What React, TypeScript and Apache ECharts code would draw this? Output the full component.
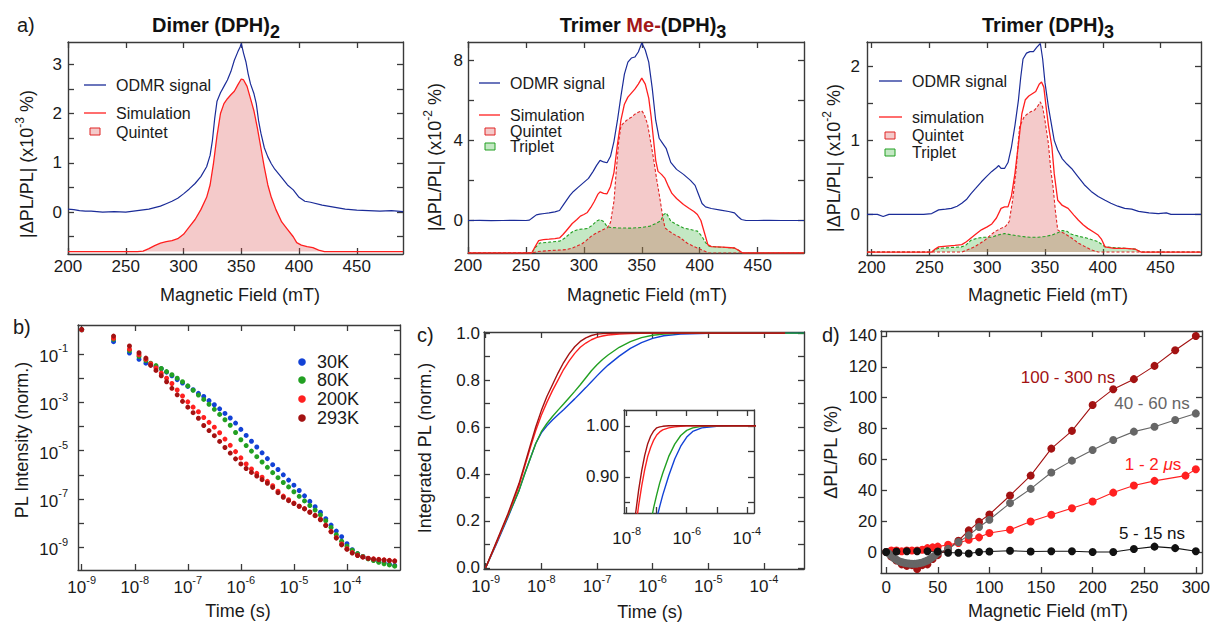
import React, { useEffect, useRef } from "react";
import * as echarts from "echarts";

const FONT = '"Liberation Sans", Arial, Helvetica, sans-serif';
const TXT = "#1a1a1a";
const AX = "#3a3a3a";

const ODMR_BLUE = "#1b2c98";
const SIM_RED = "#ff1f1f";
const Q_LINE = "#e02424";
const Q_FILL = "rgba(220,80,80,0.3)";
const T_LINE = "#22a022";
const T_FILL = "rgba(60,180,60,0.3)";

// ---------- Panel a: Dimer (DPH)2 ----------
const A_ODMR = [
  [200, 0.06], [205, 0.05], [210, 0.03], [215, 0.02], [220, 0.02], [230, 0.0], [240, 0.01], [250, 0.0],
  [260, 0.03], [270, 0.06], [280, 0.12], [285, 0.17], [290, 0.22], [295, 0.28], [300, 0.37], [305, 0.47],
  [310, 0.58], [315, 0.72], [320, 0.92], [323, 1.15], [325, 1.45], [327, 1.9], [329, 2.25], [332, 2.42],
  [335, 2.55], [338, 2.68], [341, 2.85], [344, 3.08], [347, 3.25], [349, 3.35], [350, 3.42], [352, 3.22],
  [354, 3.05], [356, 2.8], [358, 2.6], [361, 2.4], [363, 2.2], [365, 1.85], [367, 1.6], [370, 1.3],
  [373, 1.12], [376, 0.98], [379, 0.87], [385, 0.7], [390, 0.55], [395, 0.45], [400, 0.3], [405, 0.22],
  [410, 0.2], [420, 0.14], [430, 0.1], [440, 0.06], [450, 0.04], [460, 0.03], [470, 0.02], [480, 0.03], [490, 0.01],
];
const A_SIM = [
  [200, -0.8], [260, -0.8], [265, -0.79], [270, -0.74], [275, -0.68], [280, -0.63], [285, -0.6], [290, -0.58],
  [295, -0.54], [300, -0.45], [305, -0.3], [310, -0.15], [315, 0.05], [320, 0.3], [323, 0.55], [326, 1.0],
  [329, 1.55], [332, 2.0], [335, 2.2], [338, 2.3], [341, 2.38], [344, 2.45], [347, 2.58], [350, 2.7],
  [352, 2.68], [355, 2.55], [358, 2.3], [361, 2.05], [364, 1.7], [367, 1.3], [370, 0.9], [373, 0.55],
  [376, 0.3], [380, 0.05], [385, -0.2], [390, -0.35], [395, -0.5], [398, -0.62], [402, -0.67], [407, -0.7],
  [412, -0.72], [417, -0.77], [422, -0.8], [490, -0.8],
];

// ---------- Panel b (top): Trimer Me-(DPH)3 ----------
const B_ODMR = [
  [200, 0], [210, 0.01], [220, -0.01], [230, 0], [240, 0.01], [250, 0], [253, 0.02], [256, 0.15], [259, 0.28],
  [262, 0.32], [266, 0.35], [270, 0.38], [275, 0.43], [279, 0.5], [282, 0.75], [285, 1.0], [288, 1.25],
  [291, 1.45], [295, 1.65], [300, 1.9], [304, 2.1], [308, 2.45], [311, 2.75], [314, 3.0], [317, 2.92],
  [320, 2.88], [323, 3.2], [326, 3.95], [329, 5.0], [332, 6.2], [335, 7.3], [338, 7.9], [341, 8.1],
  [344, 8.15], [347, 8.4], [350, 8.85], [353, 8.5], [356, 7.9], [359, 6.6], [362, 5.0], [365, 4.1],
  [368, 3.85], [371, 3.6], [375, 2.9], [380, 2.55], [386, 2.3], [392, 2.0], [396, 1.75], [399, 1.3],
  [402, 0.85], [405, 0.68], [410, 0.6], [418, 0.52], [425, 0.45], [430, 0.38], [433, 0.2], [436, 0.05],
  [440, 0], [450, 0], [460, 0.01], [470, 0], [480, 0], [490, 0],
];
const B_SIM = [
  [200, -1.62], [255, -1.62], [258, -1.3], [261, -1.0], [265, -0.95], [270, -0.93], [275, -0.9], [279, -0.87],
  [282, -0.7], [285, -0.5], [290, -0.15], [294, 0.05], [297, 0.22], [300, 0.3], [303, 0.4], [306, 0.65],
  [309, 0.95], [312, 1.3], [314, 1.43], [317, 1.35], [320, 1.33], [323, 1.7], [326, 2.4], [329, 3.8],
  [332, 5.0], [335, 5.8], [338, 6.15], [341, 6.35], [344, 6.55], [347, 6.8], [350, 7.1], [353, 6.8],
  [356, 6.1], [358, 5.2], [360, 4.1], [362, 3.0], [364, 2.45], [367, 2.3], [370, 2.1], [373, 1.7],
  [376, 1.35], [380, 1.1], [386, 0.8], [391, 0.6], [395, 0.45], [398, 0.3], [401, 0.0], [404, -0.6],
  [407, -1.2], [410, -1.3], [420, -1.33], [430, -1.37], [434, -1.5], [437, -1.62], [490, -1.62],
];
const B_QUINTET = [
  [200, -1.62], [255, -1.62], [260, -1.55], [270, -1.5], [280, -1.47], [285, -1.45], [290, -1.38], [295, -1.25],
  [298, -1.18], [302, -1.0], [306, -0.8], [310, -0.65], [315, -0.5], [320, -0.37], [323, -0.1], [326, 0.97],
  [328, 2.5], [330, 3.9], [332, 4.72], [335, 4.9], [338, 5.05], [341, 5.15], [344, 5.3], [347, 5.4],
  [350, 5.47], [352, 5.3], [355, 4.8], [358, 3.8], [360, 3.13], [363, 2.0], [366, 0.97], [368, 0.2],
  [370, -0.37], [374, -0.55], [378, -0.7], [383, -0.85], [389, -1.12], [395, -1.3], [401, -1.45], [405, -1.55],
  [408, -1.62], [490, -1.62],
];
const B_TRIPLET = [
  [200, -1.62], [255, -1.62], [258, -1.35], [262, -1.12], [270, -1.08], [279, -1.03], [283, -0.9], [287, -0.7],
  [291, -0.53], [295, -0.45], [300, -0.42], [303, -0.4], [307, -0.25], [311, -0.03], [314, 0.05], [317, -0.05],
  [320, -0.3], [323, -0.35], [330, -0.37], [340, -0.38], [350, -0.35], [357, -0.28], [362, -0.15], [366, -0.03],
  [369, 0.3], [371, 0.38], [373, 0.2], [375, -0.03], [380, -0.2], [386, -0.37], [392, -0.45], [398, -0.53],
  [402, -0.8], [405, -1.1], [408, -1.28], [415, -1.32], [425, -1.35], [430, -1.37], [434, -1.5], [436, -1.62],
  [490, -1.62],
];

// ---------- Panel c (top): Trimer (DPH)3 ----------
const C_ODMR = [
  [196, 0.0], [205, 0.0], [210, -0.03], [215, 0.0], [225, 0.0], [235, 0.0], [245, 0.0], [252, 0.01],
  [258, 0.06], [264, 0.07], [269, 0.08], [274, 0.11], [278, 0.15], [282, 0.2], [286, 0.28], [290, 0.35],
  [295, 0.44], [300, 0.52], [304, 0.58], [308, 0.63], [310, 0.66], [312, 0.62], [315, 0.62], [318, 0.7],
  [321, 0.91], [324, 1.2], [327, 1.54], [329, 1.85], [331, 2.1], [334, 2.18], [337, 2.2], [340, 2.2],
  [343, 2.26], [346, 2.31], [348, 2.1], [350, 1.78], [353, 1.45], [356, 1.18], [358, 1.0], [361, 0.87],
  [365, 0.75], [369, 0.68], [373, 0.62], [378, 0.52], [384, 0.4], [390, 0.31], [396, 0.24], [402, 0.19],
  [407, 0.15], [413, 0.11], [419, 0.08], [425, 0.07], [431, 0.04], [440, 0.02], [448, 0.01], [455, 0.02],
  [459, 0.0], [470, 0.0], [485, 0.0],
];
const C_SIM = [
  [196, -0.51], [252, -0.51], [255, -0.47], [258, -0.44], [265, -0.43], [272, -0.42], [278, -0.41], [282, -0.37],
  [286, -0.32], [290, -0.27], [295, -0.21], [300, -0.17], [304, -0.13], [308, -0.05], [312, 0.08], [315, 0.1],
  [318, 0.1], [321, 0.25], [324, 0.55], [327, 0.95], [330, 1.36], [333, 1.55], [336, 1.6], [339, 1.63],
  [342, 1.66], [345, 1.76], [347, 1.79], [349, 1.72], [351, 1.45], [353, 1.2], [356, 0.91], [358, 0.55],
  [361, 0.19], [365, 0.12], [370, 0.08], [375, -0.01], [379, -0.08], [383, -0.14], [387, -0.19], [392, -0.24],
  [396, -0.28], [399, -0.34], [402, -0.44], [410, -0.46], [420, -0.46], [428, -0.47], [433, -0.51], [485, -0.51],
];
const C_QUINTET = [
  [196, -0.51], [278, -0.51], [283, -0.48], [289, -0.44], [294, -0.39], [298, -0.35], [303, -0.28], [307, -0.23],
  [312, -0.19], [316, -0.16], [319, -0.1], [322, 0.19], [325, 0.6], [328, 1.18], [332, 1.32], [335, 1.36],
  [338, 1.39], [341, 1.41], [344, 1.47], [346, 1.52], [348, 1.45], [350, 1.27], [353, 0.95], [355, 0.6],
  [357, 0.37], [359, 0.05], [361, -0.21], [364, -0.24], [367, -0.26], [373, -0.32], [379, -0.39], [385, -0.44],
  [390, -0.48], [396, -0.51], [485, -0.51],
];
const C_TRIPLET = [
  [196, -0.51], [252, -0.51], [255, -0.48], [258, -0.46], [268, -0.45], [278, -0.44], [282, -0.41], [286, -0.35],
  [292, -0.32], [298, -0.31], [304, -0.31], [309, -0.28], [315, -0.26], [322, -0.28], [330, -0.3], [337, -0.31],
  [344, -0.31], [350, -0.3], [356, -0.28], [361, -0.25], [365, -0.22], [369, -0.23], [373, -0.27], [380, -0.3],
  [386, -0.32], [390, -0.34], [396, -0.37], [402, -0.44], [410, -0.45], [420, -0.46], [428, -0.47], [433, -0.51],
  [485, -0.51],
];

// ---------- Panel b (bottom): PL decay, log10 of time (s) and of intensity ----------
const DECAY_T_EXP = [
  -9, -8.4, -8.1, -7.92, -7.79, -7.7, -7.6, -7.5, -7.4, -7.3, -7.2, -7.1, -7.0, -6.9, -6.8, -6.7, -6.6, -6.5,
  -6.4, -6.3, -6.2, -6.1, -6.0, -5.9, -5.8, -5.7, -5.6, -5.5, -5.4, -5.3, -5.2, -5.1, -5.0, -4.9, -4.8, -4.7,
  -4.6, -4.5, -4.4, -4.3, -4.2, -4.1, -4.0, -3.9, -3.8, -3.7, -3.6, -3.5, -3.4, -3.3, -3.2, -3.1,
];
const DECAY_30K = [
  0.0, -0.49, -0.96, -1.22, -1.38, -1.45, -1.53, -1.61, -1.75, -1.9, -2.06, -2.2, -2.34, -2.48, -2.63, -2.76,
  -2.93, -3.1, -3.27, -3.46, -3.65, -3.86, -4.12, -4.37, -4.61, -4.85, -5.09, -5.33, -5.58, -5.78, -6.0, -6.22,
  -6.43, -6.65, -6.87, -7.1, -7.32, -7.55, -7.82, -8.08, -8.33, -8.56, -8.85, -9.1, -9.26, -9.38, -9.46, -9.52,
  -9.57, -9.63, -9.7, -9.75,
];
const DECAY_80K = [
  0.0, -0.39, -0.86, -1.1, -1.27, -1.38, -1.48, -1.6, -1.73, -1.86, -2.0, -2.15, -2.32, -2.5, -2.7, -2.88,
  -3.08, -3.29, -3.5, -3.72, -3.95, -4.25, -4.55, -4.79, -5.02, -5.25, -5.47, -5.69, -5.91, -6.12, -6.32, -6.5,
  -6.7, -6.89, -7.08, -7.27, -7.46, -7.66, -7.9, -8.18, -8.48, -8.75, -8.95, -9.12, -9.26, -9.38, -9.48, -9.55,
  -9.62, -9.68, -9.73, -9.78,
];
const DECAY_200K = [
  0.0, -0.35, -0.8, -1.03, -1.22, -1.4, -1.58, -1.79, -2.0, -2.22, -2.49, -2.74, -2.98, -3.2, -3.39, -3.63,
  -3.83, -4.03, -4.26, -4.52, -4.78, -5.04, -5.3, -5.55, -5.76, -5.94, -6.1, -6.27, -6.45, -6.68, -6.88, -7.03,
  -7.17, -7.3, -7.4, -7.54, -7.68, -7.84, -8.08, -8.34, -8.6, -8.86, -9.06, -9.22, -9.33, -9.4, -9.45, -9.48,
  -9.5, -9.52, -9.54, -9.56,
];
const DECAY_293K = [
  0.02, -0.26, -0.67, -0.95, -1.17, -1.47, -1.68, -1.9, -2.15, -2.42, -2.69, -2.96, -3.2, -3.43, -3.66, -3.96,
  -4.17, -4.38, -4.62, -4.87, -5.1, -5.34, -5.55, -5.74, -5.9, -6.05, -6.2, -6.35, -6.52, -6.74, -6.93, -7.07,
  -7.19, -7.3, -7.41, -7.55, -7.69, -7.86, -8.1, -8.36, -8.62, -8.9, -9.08, -9.24, -9.34, -9.41, -9.46, -9.49,
  -9.51, -9.53, -9.55, -9.57,
];

// ---------- Panel c (bottom): integrated PL ----------
const INT_T_EXP = [
  -9, -8.8, -8.6, -8.4, -8.3, -8.2, -8.1, -8.0, -7.9, -7.8, -7.7, -7.6, -7.5, -7.4, -7.3, -7.2, -7.1, -7.0,
  -6.9, -6.8, -6.6, -6.4, -6.2, -6.0, -5.8, -5.5, -5.0, -4.5, -4.0, -3.62, -3.28,
];
const INT_30K = [
  0, 0.105, 0.215, 0.33, 0.4, 0.465, 0.53, 0.575, 0.605, 0.63, 0.652, 0.674, 0.697, 0.72, 0.744, 0.768, 0.793,
  0.818, 0.842, 0.864, 0.902, 0.935, 0.96, 0.978, 0.989, 0.996, 0.999, 1, 1, 1, 1,
];
const INT_80K = [
  0, 0.11, 0.22, 0.33, 0.4, 0.465, 0.53, 0.58, 0.615, 0.645, 0.672, 0.698, 0.725, 0.752, 0.78, 0.81, 0.84,
  0.865, 0.888, 0.907, 0.94, 0.964, 0.981, 0.991, 0.996, 0.999, 1, 1, 1, 1, 1,
];
const INT_200K = [
  0, 0.11, 0.225, 0.35, 0.43, 0.51, 0.585, 0.65, 0.705, 0.755, 0.8, 0.845, 0.882, 0.914, 0.94, 0.958, 0.972,
  0.982, 0.988, 0.992, 0.996, 0.998, 0.999, 1, 1, 1, 1, 1, 1, 1, null,
];
const INT_293K = [
  0, 0.115, 0.23, 0.36, 0.44, 0.52, 0.6, 0.67, 0.73, 0.78, 0.83, 0.875, 0.912, 0.942, 0.965, 0.98, 0.99,
  0.996, 0.998, 0.999, 1, 1, 1, 1, 1, 1, 1, 1, 1, 1, null,
];

// ---------- Panel d: field dependence ----------
const D_X_100_300NS = [0, 5, 10, 15, 20, 25, 30, 35, 40, 45, 50, 60, 70, 80, 90, 100, 120, 140, 160, 180, 200, 220, 240, 260, 280, 300];
const D_Y_100_300NS = [0, -3, -5.5, -8, -9, -8.5, -11, -8.5, -8, -4.5, -2, 2, 7.3, 14, 19.5, 24.3, 36.6, 49.5, 67, 78.5, 95.2, 105.5, 112, 120.6, 130.7, 140];
const D_X_40_60NS = [0, 2.5, 5, 7.5, 10, 12.5, 15, 17.5, 20, 22.5, 25, 27.5, 30, 32.5, 35, 37.5, 40, 42.5, 45, 47.5, 50, 60, 70, 80, 90, 100, 120, 140, 160, 180, 200, 220, 240, 260, 280, 300];
const D_Y_40_60NS = [0, -1, -2.5, -4, -5, -6, -6.5, -7, -7.3, -7.5, -7.6, -7.6, -7.5, -7.2, -6.8, -6.2, -5.5, -4.5, -3.3, -2, -0.5, 1.9, 6.5, 10.8, 16.2, 20.9, 31.7, 40.9, 51.5, 59.2, 66.1, 72.6, 78, 81.2, 85.5, 89.8];
const D_X_1_2US = [0, 5, 10, 15, 20, 25, 30, 35, 40, 45, 50, 60, 70, 80, 90, 100, 120, 140, 160, 180, 200, 220, 240, 260, 290, 300];
const D_Y_1_2US = [0, 1, 1, 0.5, 1, 1, 1, 1.5, 2.5, 3, 3.5, 4.7, 5.8, 8, 9.5, 12.3, 14.4, 19.8, 24.1, 28.4, 32.7, 38.5, 43.1, 46.1, 49.5, 53.6];
const D_X_5_15NS = [0, 10, 20, 30, 40, 50, 60, 70, 80, 90, 100, 120, 140, 160, 180, 200, 220, 240, 260, 280, 300];
const D_Y_5_15NS = [0, 0.3, 0.5, 0.5, 0.5, 0.3, -0.5, -0.5, -1, 0, 0.3, 0.8, 0.3, 0.5, 0.5, 0, 0, 2, 3.5, 2.5, 0.5];

// ---------- tick values ----------
const FIELD_TICKS = [200, 250, 300, 350, 400, 450];
const A_Y_LABELS = [0, 1, 2, 3];
const A_Y_TICKS = [-0.5, 0, 0.5, 1, 1.5, 2, 2.5, 3];
const B_Y_LABELS = [0, 4, 8];
const B_Y_TICKS = [0, 2, 4, 6, 8];
const C_Y_LABELS = [0, 1, 2];
const C_Y_TICKS = [0, 0.5, 1, 1.5, 2];
const TIME_DECADES = [1e-9, 1e-8, 1e-7, 1e-6, 1e-5, 1e-4];
const DECAY_Y_TICKS = [1e-9, 1e-8, 1e-7, 1e-6, 1e-5, 1e-4, 1e-3, 1e-2, 1e-1, 1];
const DECAY_Y_LABELS = [1e-9, 1e-7, 1e-5, 1e-3, 1e-1];
const INT_Y_LABELS = [0, 0.2, 0.4, 0.6, 0.8, 1.0];
const INT_Y_TICKS = [0, 0.1, 0.2, 0.3, 0.4, 0.5, 0.6, 0.7, 0.8, 0.9, 1.0];
const INSET_X_TICKS = [1e-8, 1e-7, 1e-6, 1e-5, 1e-4];
const INSET_X_LABELS = [1e-8, 1e-6, 1e-4];
const INSET_Y_TICKS = [0.85, 0.9, 0.95, 1.0];
const INSET_Y_LABELS = [0.9, 1.0];
const D_X_TICKS = [0, 50, 100, 150, 200, 250, 300];
const D_Y_TICKS = [0, 20, 40, 60, 80, 100, 120, 140];

// ---------- helpers ----------
const LOG_RICH = {
  b: { fontSize: 17, fontFamily: FONT, color: TXT, lineHeight: 22, verticalAlign: "bottom" },
  s: { fontSize: 11, fontFamily: FONT, color: TXT, verticalAlign: "top" },
};
const logFmt = (v: number) => `{b|10}{s|${Math.round(Math.log10(v))}}`;
const plainFmt = (v: number) => String(v);

type AxCfg = {
  grid: number;
  type?: "value" | "log";
  min: number;
  max: number;
  ticks: number[];
  labels: number[];
  fmt: (v: number) => string;
  rich?: any;
  margin: number;
};

function axisPair(dim: "x" | "y", c: AxCfg) {
  const common: any = {
    type: c.type ?? "value",
    gridIndex: c.grid,
    min: c.min,
    max: c.max,
    splitLine: { show: false },
    minorTick: { show: false },
    minorSplitLine: { show: false },
    axisLine: { show: true, onZero: false, lineStyle: { color: AX, width: 1.4 } },
  };
  if (c.type === "log") common.logBase = 10;
  const pos = dim === "x" ? ["bottom", "top"] : ["left", "right"];
  const tick = { show: true, inside: true, length: 6, customValues: c.ticks, lineStyle: { color: AX, width: 1.3 } };
  return [
    {
      ...common,
      position: pos[0],
      axisTick: tick,
      axisLabel: {
        show: true,
        customValues: c.labels,
        formatter: c.fmt,
        margin: c.margin,
        fontSize: 17,
        fontFamily: FONT,
        color: TXT,
        rich: c.rich,
      },
    },
    { ...common, position: pos[1], axisTick: tick, axisLabel: { show: false } },
  ];
}

function lineSeries(g: number, name: string, data: any[], color: string, opts: any = {}) {
  return {
    type: "line",
    name,
    xAxisIndex: 2 * g,
    yAxisIndex: 2 * g,
    data,
    showSymbol: false,
    symbol: "none",
    clip: true,
    silent: true,
    emphasis: { disabled: true },
    z: opts.z ?? 2,
    lineStyle: { color, width: opts.width ?? 1.3, type: opts.dash ? [3, 2] : "solid", opacity: opts.noLine ? 0 : 1 },
    itemStyle: { color },
    areaStyle: opts.area ? { color: opts.area, origin: opts.origin, opacity: 1 } : undefined,
  };
}

const expPairs = (xs: number[], ys: (number | null)[]) =>
  xs.map((x, i) => (ys[i] == null ? null : [Math.pow(10, x), ys[i]])).filter((p) => p !== null);
const expPairs2 = (xs: number[], ys: number[]) => xs.map((x, i) => [Math.pow(10, x), Math.pow(10, ys[i])]);
const zip = (xs: number[], ys: number[]) => xs.map((x, i) => [x, ys[i]]);

function text(x: number, y: number, t: string, o: any = {}) {
  const align = o.align ?? "center";
  return {
    type: "text",
    x,
    y,
    rotation: o.rotation ?? 0,
    z: 100,
    silent: true,
    style: {
      text: t,
      fill: o.color ?? TXT,
      fontSize: o.size ?? 17,
      fontFamily: FONT,
      fontWeight: o.weight ?? "normal",
      align,
      textAlign: align,
      verticalAlign: "middle",
      textVerticalAlign: "middle",
      rich: o.rich,
    },
  };
}
const hline = (x1: number, x2: number, y: number, color: string) => ({
  type: "line",
  z: 100,
  silent: true,
  shape: { x1, y1: y, x2, y2: y },
  style: { stroke: color, lineWidth: 1.3 },
});
const box = (x: number, y: number, fill: string, stroke: string) => ({
  type: "rect",
  z: 100,
  silent: true,
  shape: { x, y, width: 10, height: 7 },
  style: { fill, stroke, lineWidth: 1 },
});
const dot = (cx: number, cy: number, color: string) => ({
  type: "circle",
  z: 100,
  silent: true,
  shape: { cx, cy, r: 3.8 },
  style: { fill: color },
});

const NAME_RICH = {
  a: { fontSize: 18, fontFamily: FONT, fill: TXT, lineHeight: 22, verticalAlign: "bottom" },
  s: { fontSize: 12, fontFamily: FONT, fill: TXT, verticalAlign: "top" },
};
const TITLE_RICH = {
  b: { fontSize: 20, fontWeight: "bold", fontFamily: FONT, fill: "#111", lineHeight: 26, verticalAlign: "top" },
  m: { fontSize: 20, fontWeight: "bold", fontFamily: FONT, fill: "#a31818", lineHeight: 26, verticalAlign: "top" },
  s: { fontSize: 18, fontWeight: "bold", fontFamily: FONT, fill: "#111", verticalAlign: "bottom" },
};

const C_BLUE = "#1242d6";
const C_GREEN = "#22a022";
const C_RED = "#ff2020";
const C_DKRED = "#a31212";
const D_GRAY = "#666666";
const D_BLACK = "#111111";

function buildOption() {
  const grids = [
    { left: 68, top: 42, width: 335, height: 212 },
    { left: 468, top: 42, width: 336, height: 211 },
    { left: 867, top: 42, width: 334, height: 213 },
    { left: 78, top: 325, width: 322, height: 245 },
    { left: 484, top: 332, width: 320, height: 237 },
    { left: 624, top: 410, width: 130, height: 103 },
    { left: 881, top: 331, width: 326, height: 242 },
  ].map((g) => ({ ...g, containLabel: false, show: false }));

  const xAxis = [
    ...axisPair("x", { grid: 0, min: 200, max: 490, ticks: FIELD_TICKS, labels: FIELD_TICKS, fmt: plainFmt, margin: 4 }),
    ...axisPair("x", { grid: 1, min: 200, max: 490, ticks: FIELD_TICKS, labels: FIELD_TICKS, fmt: plainFmt, margin: 4 }),
    ...axisPair("x", { grid: 2, min: 196, max: 485, ticks: FIELD_TICKS, labels: FIELD_TICKS, fmt: plainFmt, margin: 4 }),
    ...axisPair("x", { grid: 3, type: "log", min: Math.pow(10, -9.07), max: Math.pow(10, -3.0), ticks: TIME_DECADES, labels: TIME_DECADES, fmt: logFmt, rich: LOG_RICH, margin: 4 }),
    ...axisPair("x", { grid: 4, type: "log", min: Math.pow(10, -9.03), max: Math.pow(10, -3.28), ticks: TIME_DECADES, labels: TIME_DECADES, fmt: logFmt, rich: LOG_RICH, margin: 4 }),
    ...axisPair("x", { grid: 5, type: "log", min: Math.pow(10, -8.09), max: Math.pow(10, -3.76), ticks: INSET_X_TICKS, labels: INSET_X_LABELS, fmt: logFmt, rich: LOG_RICH, margin: 12 }),
    ...axisPair("x", { grid: 6, min: -5, max: 306, ticks: D_X_TICKS, labels: D_X_TICKS, fmt: plainFmt, margin: 6 }),
  ];
  const yAxis = [
    ...axisPair("y", { grid: 0, min: -0.85, max: 3.45, ticks: A_Y_TICKS, labels: A_Y_LABELS, fmt: plainFmt, margin: 6 }),
    ...axisPair("y", { grid: 1, min: -1.62, max: 8.9, ticks: B_Y_TICKS, labels: B_Y_LABELS, fmt: plainFmt, margin: 5 }),
    ...axisPair("y", { grid: 2, min: -0.55, max: 2.33, ticks: C_Y_TICKS, labels: C_Y_LABELS, fmt: plainFmt, margin: 7 }),
    ...axisPair("y", { grid: 3, type: "log", min: Math.pow(10, -9.94), max: Math.pow(10, 0.2), ticks: DECAY_Y_TICKS, labels: DECAY_Y_LABELS, fmt: logFmt, rich: LOG_RICH, margin: 10 }),
    ...axisPair("y", { grid: 4, min: -0.005, max: 1.005, ticks: INT_Y_TICKS, labels: INT_Y_LABELS, fmt: (v: number) => v.toFixed(1), margin: 4 }),
    ...axisPair("y", { grid: 5, min: 0.829, max: 1.031, ticks: INSET_Y_TICKS, labels: INSET_Y_LABELS, fmt: (v: number) => v.toFixed(2), margin: 5 }),
    ...axisPair("y", { grid: 6, min: -13.6, max: 143.2, ticks: D_Y_TICKS, labels: D_Y_TICKS, fmt: plainFmt, margin: 4 }),
  ];

  const scatter = (name: string, ys: number[], color: string) => ({
    type: "scatter",
    name,
    xAxisIndex: 6,
    yAxisIndex: 6,
    data: expPairs2(DECAY_T_EXP, ys),
    symbol: "circle",
    symbolSize: 5,
    itemStyle: { color, opacity: 1 },
    silent: true,
    emphasis: { disabled: true },
  });

  const dSeries = (name: string, xs: number[], ys: number[], color: string) => ({
    type: "line",
    name,
    xAxisIndex: 12,
    yAxisIndex: 12,
    data: zip(xs, ys),
    symbol: "circle",
    symbolSize: 8,
    showSymbol: true,
    lineStyle: { color, width: 1.1 },
    itemStyle: { color, borderWidth: 0 },
    silent: true,
    emphasis: { disabled: true },
  });

  const series: any[] = [
    // panel a
    lineSeries(0, "Quintet", A_SIM, Q_LINE, { noLine: true, area: Q_FILL, origin: -0.8 }),
    lineSeries(0, "Simulation", A_SIM, SIM_RED),
    lineSeries(0, "ODMR signal", A_ODMR, ODMR_BLUE, { width: 1.2 }),
    // panel b top
    lineSeries(1, "Triplet", B_TRIPLET, T_LINE, { dash: true, area: T_FILL, origin: -1.62, width: 1.1 }),
    lineSeries(1, "Quintet", B_QUINTET, Q_LINE, { dash: true, area: Q_FILL, origin: -1.62, width: 1.1 }),
    lineSeries(1, "Simulation", B_SIM, SIM_RED),
    lineSeries(1, "ODMR signal", B_ODMR, ODMR_BLUE, { width: 1.2 }),
    // panel c top
    lineSeries(2, "Triplet", C_TRIPLET, T_LINE, { dash: true, area: T_FILL, origin: -0.51, width: 1.1 }),
    lineSeries(2, "Quintet", C_QUINTET, Q_LINE, { dash: true, area: Q_FILL, origin: -0.51, width: 1.1 }),
    lineSeries(2, "simulation", C_SIM, SIM_RED),
    lineSeries(2, "ODMR signal", C_ODMR, ODMR_BLUE, { width: 1.2 }),
    // panel b bottom
    scatter("30K", DECAY_30K, C_BLUE),
    scatter("80K", DECAY_80K, C_GREEN),
    scatter("200K", DECAY_200K, C_RED),
    scatter("293K", DECAY_293K, C_DKRED),
    // panel c bottom
    lineSeries(4, "30K", expPairs(INT_T_EXP, INT_30K), C_BLUE, { width: 1.4 }),
    lineSeries(4, "80K", expPairs(INT_T_EXP, INT_80K), C_GREEN, { width: 1.4 }),
    lineSeries(4, "200K", expPairs(INT_T_EXP, INT_200K), C_RED, { width: 1.4 }),
    lineSeries(4, "293K", expPairs(INT_T_EXP, INT_293K), C_DKRED, { width: 1.4 }),
    // inset
    lineSeries(5, "30K", expPairs(INT_T_EXP, INT_30K), C_BLUE, { width: 1.4 }),
    lineSeries(5, "80K", expPairs(INT_T_EXP, INT_80K), C_GREEN, { width: 1.4 }),
    lineSeries(5, "200K", expPairs(INT_T_EXP, INT_200K), C_RED, { width: 1.4 }),
    lineSeries(5, "293K", expPairs(INT_T_EXP, INT_293K), C_DKRED, { width: 1.4 }),
    // panel d
    dSeries("1 - 2 μs", D_X_1_2US, D_Y_1_2US, C_RED),
    dSeries("100 - 300 ns", D_X_100_300NS, D_Y_100_300NS, C_DKRED),
    dSeries("40 - 60 ns", D_X_40_60NS, D_Y_40_60NS, D_GRAY),
    dSeries("5 - 15 ns", D_X_5_15NS, D_Y_5_15NS, D_BLACK),
  ];

  const graphic: any[] = [
    // panel letters
    text(17, 25, "a)", { align: "left", size: 20 }),
    text(13, 327, "b)", { align: "left", size: 20 }),
    text(417, 335, "c)", { align: "left", size: 20 }),
    text(822, 335, "d)", { align: "left", size: 20 }),
    // titles
    text(216, 28, "{b|Dimer (DPH)}{s|2}", { rich: TITLE_RICH }),
    text(643, 28, "{b|Trimer }{m|Me-}{b|(DPH)}{s|3}", { rich: TITLE_RICH }),
    text(1048, 28, "{b|Trimer (DPH)}{s|3}", { rich: TITLE_RICH }),
    // x-axis names
    text(240, 295, "Magnetic Field (mT)", { size: 18 }),
    text(647, 295, "Magnetic Field (mT)", { size: 18 }),
    text(1048, 295, "Magnetic Field (mT)", { size: 18 }),
    text(238, 611, "Time (s)", { size: 18 }),
    text(650, 612, "Time (s)", { size: 18 }),
    text(1048, 611, "Magnetic Field (mT)", { size: 18 }),
    // y-axis names
    text(25, 164, "{a||ΔPL/PL| (x10}{s|-3}{a| %)}", { rotation: Math.PI / 2, rich: NAME_RICH }),
    text(433, 157, "{a||ΔPL/PL| (x10}{s|-2}{a| %)}", { rotation: Math.PI / 2, rich: NAME_RICH }),
    text(832, 158, "{a||ΔPL/PL| (x10}{s|-2}{a| %)}", { rotation: Math.PI / 2, rich: NAME_RICH }),
    text(22, 440, "PL Intensity (norm.)", { rotation: Math.PI / 2, size: 18 }),
    text(425, 448, "Integrated PL (norm.)", { rotation: Math.PI / 2, size: 18 }),
    text(831, 452, "ΔPL/PL (%)", { rotation: Math.PI / 2, size: 18 }),
    // legend a
    hline(84, 106, 85, ODMR_BLUE),
    text(116, 85, "ODMR signal", { align: "left", size: 16 }),
    hline(84, 106, 113, SIM_RED),
    text(116, 113, "Simulation", { align: "left", size: 16 }),
    box(90, 128, Q_FILL, Q_LINE),
    text(116, 132, "Quintet", { align: "left", size: 16 }),
    // legend b top
    hline(479, 500, 83, ODMR_BLUE),
    text(510, 83, "ODMR signal", { align: "left", size: 16 }),
    hline(479, 500, 115, SIM_RED),
    text(510, 115, "Simulation", { align: "left", size: 16 }),
    box(485, 128, Q_FILL, Q_LINE),
    text(510, 131, "Quintet", { align: "left", size: 16 }),
    box(485, 143, T_FILL, T_LINE),
    text(510, 146, "Triplet", { align: "left", size: 16 }),
    // legend c top
    hline(879, 902, 81, ODMR_BLUE),
    text(912, 81, "ODMR signal", { align: "left", size: 16 }),
    hline(879, 902, 117, SIM_RED),
    text(912, 117, "simulation", { align: "left", size: 16 }),
    box(885, 132, Q_FILL, Q_LINE),
    text(912, 135, "Quintet", { align: "left", size: 16 }),
    box(885, 149, T_FILL, T_LINE),
    text(912, 152, "Triplet", { align: "left", size: 16 }),
    // legend b bottom
    dot(302, 362, C_BLUE),
    text(317, 362, "30K", { align: "left", size: 18 }),
    dot(302, 380, C_GREEN),
    text(317, 380, "80K", { align: "left", size: 18 }),
    dot(302, 399, C_RED),
    text(317, 399, "200K", { align: "left", size: 18 }),
    dot(302, 418, C_DKRED),
    text(317, 418, "293K", { align: "left", size: 18 }),
    // panel d annotations
    text(1068, 377, "100 - 300 ns", { color: C_DKRED }),
    text(1152, 403, "40 - 60 ns", { color: D_GRAY }),
    text(1153, 464, "{n|1 - 2 }{i|μ}{n|s}", {
      rich: {
        n: { fontSize: 17, fontFamily: FONT, fill: C_RED },
        i: { fontSize: 17, fontFamily: FONT, fill: C_RED, fontStyle: "italic" },
      },
    }),
    text(1152, 533, "5 - 15 ns", { color: D_BLACK }),
  ];

  return {
    animation: false,
    backgroundColor: "#ffffff",
    textStyle: { fontFamily: FONT },
    grid: grids,
    xAxis,
    yAxis,
    series,
    graphic,
  };
}

export default function App() {
  const ref = useRef<HTMLDivElement>(null);
  useEffect(() => {
    if (!ref.current) return;
    const chart = echarts.init(ref.current, undefined, { renderer: "svg" });
    chart.setOption(buildOption() as any);
    return () => chart.dispose();
  }, []);
  return (
    <div
      ref={ref}
      style={{ position: "absolute", left: 0, top: 0, width: 1213, height: 623, background: "#fff" }}
    />
  );
}
